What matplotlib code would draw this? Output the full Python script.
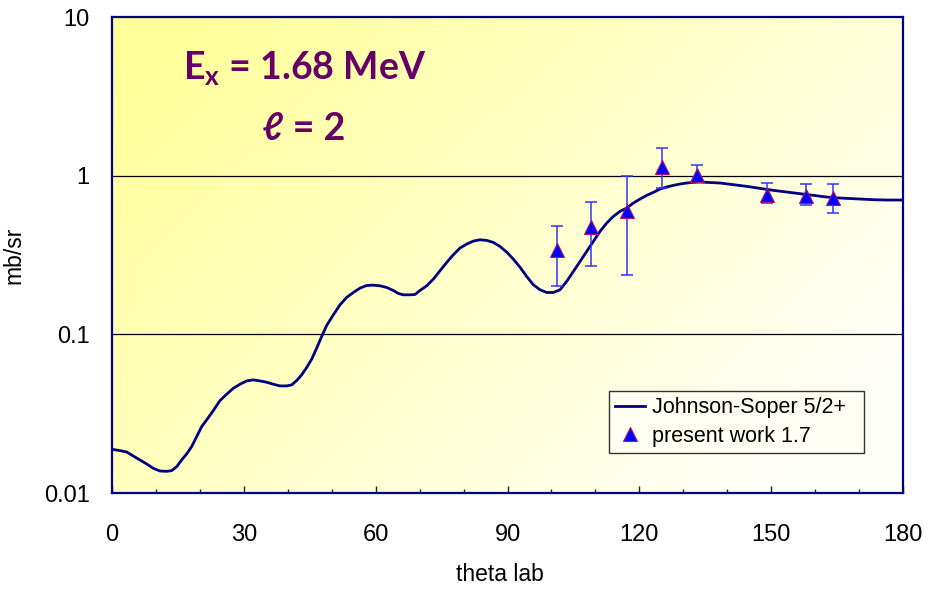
import numpy as np
import matplotlib
matplotlib.use("Agg")
import matplotlib.pyplot as plt
from matplotlib.colors import to_rgb
from matplotlib.lines import Line2D

plt.rcParams['font.family'] = ['Liberation Sans', 'DejaVu Sans']
plt.rcParams['mathtext.fontset'] = 'custom'
plt.rcParams['mathtext.rm'] = 'Lato:bold'
plt.rcParams['mathtext.it'] = 'Lato:bold'
plt.rcParams['mathtext.bf'] = 'Lato:bold'

# Johnson-Soper calculation (5/2+): lab angle in degrees vs. cross section in mb/sr
theory_theta = [0.00, 1.82, 3.34, 4.85, 6.37, 7.89, 9.41, 10.92, 12.44, 13.58, 14.72,
                15.85, 16.99, 18.13, 19.27, 20.41, 21.54, 23.06, 24.58, 26.09, 27.61,
                29.13, 30.65, 32.16, 33.68, 35.20, 36.71, 38.23, 39.75, 40.89, 42.02,
                43.16, 44.30, 45.44, 46.57, 47.71, 48.85, 50.37, 51.88, 53.40, 54.92,
                56.44, 57.95, 59.47, 60.99, 62.50, 64.02, 65.16, 66.30, 67.81, 68.95,
                70.09, 71.61, 73.12, 74.64, 76.16, 77.67, 79.19, 80.71, 82.23, 83.74,
                85.26, 86.78, 88.29, 89.81, 91.33, 92.84, 94.36, 95.88, 97.40, 98.91,
                100.43, 101.95, 103.46, 104.98, 106.50, 108.02, 109.53, 111.05, 112.57,
                114.08, 115.60, 117.12, 118.64, 120.15, 121.67, 123.19, 124.70, 126.22,
                127.74, 129.26, 130.77, 132.29, 133.81, 135.32, 138.36, 141.39, 144.43,
                147.46, 150.49, 153.53, 156.56, 159.60, 162.63, 165.67, 168.70, 173.25,
                176.29, 180.00]
theory_xs = [0.01886, 0.01850, 0.01814, 0.01711, 0.01615, 0.01524, 0.01431, 0.01376,
             0.01370, 0.01383, 0.01466, 0.01615, 0.01762, 0.01960, 0.02266, 0.02621,
             0.02888, 0.03307, 0.03824, 0.04193, 0.04574, 0.04848, 0.05088, 0.05163,
             0.05088, 0.04991, 0.04848, 0.04732, 0.04732, 0.04801, 0.05113, 0.05553,
             0.06175, 0.06970, 0.08177, 0.09689, 0.1137, 0.1327, 0.1535, 0.1708,
             0.1836, 0.1956, 0.2032, 0.2042, 0.2023, 0.1974, 0.1890, 0.1810, 0.1775,
             0.1775, 0.1784, 0.1890, 0.2023, 0.2228, 0.2516, 0.2839, 0.3174, 0.3497,
             0.3706, 0.3870, 0.3946, 0.3908, 0.3797, 0.3582, 0.3299, 0.2979, 0.2650,
             0.2317, 0.2053, 0.1909, 0.1836, 0.1836, 0.1909, 0.2154, 0.2490, 0.2880,
             0.3332, 0.3851, 0.4454, 0.5028, 0.5538, 0.5957, 0.6252, 0.6724, 0.7124,
             0.7515, 0.7848, 0.8240, 0.8484, 0.8689, 0.8860, 0.8990, 0.9078, 0.9122,
             0.9078, 0.8990, 0.8775, 0.8564, 0.8318, 0.8081, 0.7888, 0.7699, 0.7515,
             0.7335, 0.7230, 0.7160, 0.7057, 0.7023, 0.7023]

# Measured points (present work 1.7) with asymmetric uncertainties
data_theta = [101.2, 109.0, 117.1, 125.2, 133.1, 149.0, 157.9, 164.0]
data_xs = [0.338, 0.472, 0.601, 1.135, 1.01, 0.759, 0.748, 0.723]
data_hi = [0.479, 0.685, 0.99, 1.50, 1.17, 0.894, 0.881, 0.881]
data_lo = [0.203, 0.270, 0.238, 0.836, 0.91, 0.676, 0.650, 0.584]

x_ticks = [0, 30, 60, 90, 120, 150, 180]
y_ticks = [0.01, 0.1, 1, 10]
y_ticklabels = ["0.01", "0.1", "1", "10"]

navy = "#000080"
purple = "#660066"

W, H = 933, 591
fig = plt.figure(figsize=(W / 100, H / 100), dpi=100)
ax = fig.add_axes([0.12, 0.1658, 0.8479, 0.8054])

# diagonal yellow-to-white background: yellow at the upper left, whitish at the lower right
ny, nx = 200, 300
u = np.linspace(0, 1, nx)[None, :]          # left -> right
d = np.linspace(0, 1, ny)[:, None]          # top -> bottom (image row order)
t = np.clip((0.62 * u + 0.38 * d - 0.05) / 0.85, 0, 1)
c0 = np.array(to_rgb("#FFFF99"))
c1 = np.array(to_rgb("#FFFFFA"))
img = c0[None, None, :] * (1 - t[..., None]) + c1[None, None, :] * t[..., None]
ax.imshow(img, extent=[0, 1, 0, 1], transform=ax.transAxes, aspect='auto',
          origin='upper', zorder=0, interpolation='bilinear')

ax.set_yscale('log')
ax.set_xlim(0, 180)
ax.set_ylim(0.01, 10)

for g in (0.1, 1):
    ax.axhline(g, color='black', lw=0.9, zorder=1)

ax.plot(theory_theta, theory_xs, color=navy, lw=2.0, zorder=3,
        solid_joinstyle='round', solid_capstyle='round')

yerr = [np.array(data_xs) - np.array(data_lo), np.array(data_hi) - np.array(data_xs)]
ax.errorbar(data_theta, data_xs, yerr=yerr, fmt='none', ecolor="#3333FF",
            elinewidth=1.1, capsize=4, capthick=1.1, zorder=4)
ax.plot(data_theta, data_xs, ls='none', marker='^', ms=10.5, mfc="#0000FF",
        mec="#B0106E", mew=0.8, zorder=5)

for s in ax.spines.values():
    s.set_color(navy)
    s.set_linewidth(1.6)

ax.set_xticks(x_ticks)
ax.set_xticks(range(0, 181, 10), minor=True)
ax.tick_params(axis='x', which='major', direction='in', length=5, width=1,
               color='#222222', labelsize=17, pad=22)
ax.tick_params(axis='x', which='minor', direction='in', length=3, width=1,
               color='#222222')
ax.set_yticks(y_ticks)
ax.set_yticklabels(y_ticklabels)
ax.yaxis.set_minor_locator(matplotlib.ticker.NullLocator())
ax.tick_params(axis='y', which='major', length=0, labelsize=17, pad=16)

ax.set_xlabel("theta lab", fontsize=16.5)
ax.xaxis.set_label_coords(0.49, -0.147)
ax.set_ylabel("mb/sr", fontsize=16.5)
ax.yaxis.set_label_coords(-0.11, 0.5)

# annotation placed in figure pixels (origin at the lower left)
ax.text(183, H - 79, r"$\mathrm{E_x}$ = 1.68 MeV", transform=None, color=purple,
        fontsize=27, fontweight='bold', family=['Lato', 'DejaVu Sans'],
        ha='left', va='baseline')
ax.text(262, H - 140, "ℓ = 2", transform=None, color=purple,
        fontsize=27, fontweight='bold', family=['Lato', 'DejaVu Sans'],
        ha='left', va='baseline')

handles = [Line2D([], [], color=navy, lw=2.0),
           Line2D([], [], ls='none', marker='^', ms=10, mfc="#0000FF",
                  mec="#B0106E", mew=0.8)]
leg = ax.legend(handles, ["Johnson-Soper 5/2+", "present work 1.7"],
                loc='lower left', bbox_to_anchor=(0.628, 0.084, 0.323, 0.134),
                mode='expand', fontsize=15.5, frameon=True, fancybox=False,
                borderpad=0.3, handlelength=1.4, handletextpad=0.3,
                labelspacing=0.35, borderaxespad=0)
leg.get_frame().set_edgecolor('black')
leg.get_frame().set_linewidth(1.0)
leg.get_frame().set_facecolor('#FFFFF6')
leg.set_zorder(6)

fig.savefig("out.png", dpi=100)
